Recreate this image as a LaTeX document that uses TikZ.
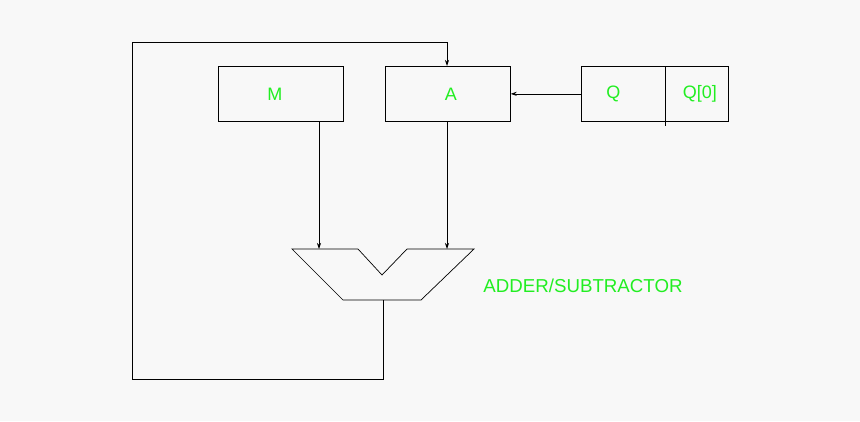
\documentclass[tikz,border=0pt]{standalone}
\usepackage{fontspec}
\setmainfont{Liberation Sans}
\usetikzlibrary{arrows.meta}
\definecolor{bg}{HTML}{F8F8F8}
\definecolor{lbl}{HTML}{22EE22}
\begin{document}
\begin{tikzpicture}[x=1pt,y=-1pt,
  reg/.style={draw,line width=0.7pt,minimum width=125pt,minimum height=55pt,inner sep=0pt,anchor=north west,text=lbl,font=\fontsize{18}{21}\selectfont},
  ln/.style={line width=0.7pt},
  arr/.style={ln,-{Stealth[length=6pt,width=4pt]}}]
\fill[bg] (0,0) rectangle (860,421);
\useasboundingbox (0,0) rectangle (860,421);
\node[reg] (M) at (218,66) {\hspace*{-12pt}M};
\node[reg] (A) at (385,66) {\hspace*{6pt}A};
\node[reg,minimum width=84pt] (Q) at (581,66) {\hspace*{-20pt}Q};
\node[reg,minimum width=63pt] (Q0) at (665,66) {\hspace*{6pt}Q[0]};
\draw[ln] (Q0.south west) -- ++(0,4);
\coordinate (mt) at (319,249);
\coordinate (at) at (447,249);
\draw[ln] (292,249) -- (358,249) -- (382,275) -- (407,249) -- (474,249) -- (421,300) -- (343,300) -- cycle;
\coordinate (ab) at (383,300);
\node[text=lbl,font=\fontsize{18.7}{22}\selectfont] (lab) at (583,286) {ADDER/SUBTRACTOR};
\draw[arr] (Q.west) -- (A.east);
\draw[arr] (M.south -| mt) -- (mt);
\draw[arr] (A.south -| at) -- (at);
\coordinate (c1) at (383,379);
\coordinate (c2) at (132,379);
\coordinate (c3) at (132,42);
\coordinate (c4) at (447,42);
\draw[arr] (ab) -- (c1) -- (c2) -- (c3) -- (c4) -- (A.north -| c4);
\end{tikzpicture}
\end{document}
